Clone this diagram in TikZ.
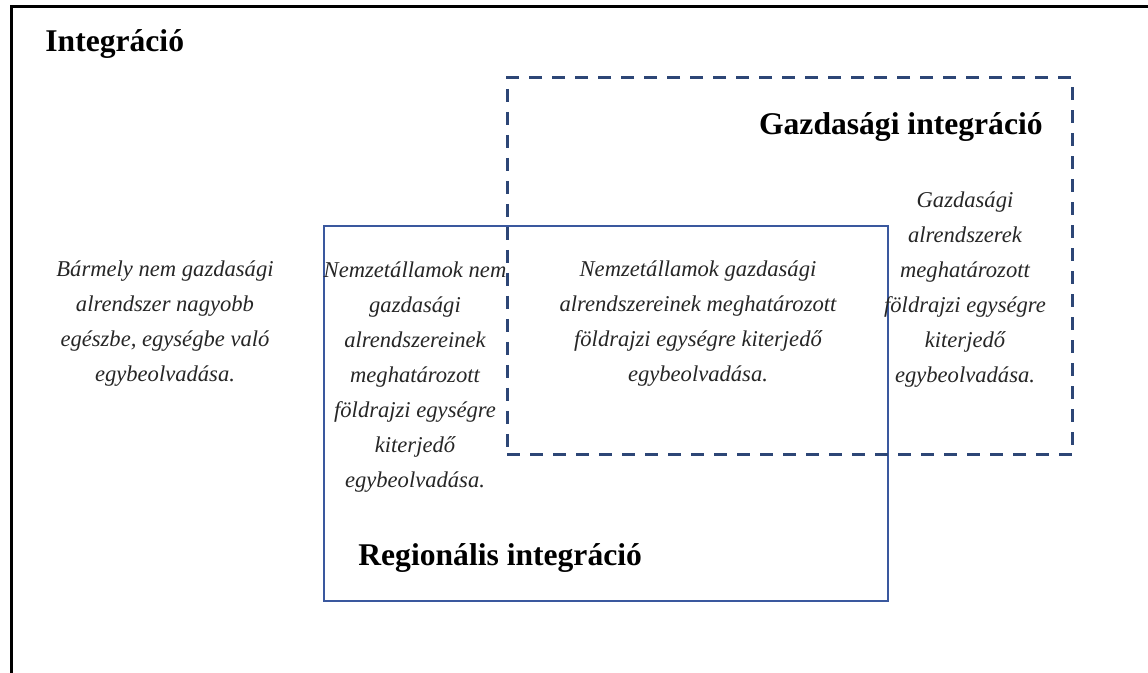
\documentclass[tikz,border=0pt]{standalone}
\usepackage{fontspec}
\setmainfont{Liberation Serif}
\usepackage{xcolor}
\usetikzlibrary{positioning}
\definecolor{gazdblue}{RGB}{45,70,118}
\definecolor{regblue}{RGB}{58,88,158}
\tikzset{
  title/.style={font=\fontsize{15.8}{18}\selectfont\bfseries, inner sep=0pt},
  desc/.style={font=\fontsize{11.3}{17.5}\selectfont\itshape, align=center, inner sep=0pt, text=black!85},
  regframe/.style={draw=regblue, line width=1.2pt, inner sep=0pt},
  gazdframe/.style={draw=gazdblue, line width=1.5pt, dash pattern=on 6.5pt off 5pt, inner sep=0pt},
}

\begin{document}
\begin{tikzpicture}[x=0.5pt, y=-0.5pt]
    \useasboundingbox (0,0) rectangle (1148,673);
    \clip (0,0) rectangle (1148,673);
    \draw[line width=1.5pt] (11,700) -- (11,7) -- (1160,7);

    \node[regframe, minimum width=282pt, minimum height=187.5pt] (reg) at (606,413.5) {};
    \node[gazdframe, minimum width=282.5pt, minimum height=188.5pt] (gazd) at (789.5,266.5) {};

    \node[title, anchor=base west] (intlabel) at (45,52) {Integráció};
    \node[title, anchor=base east] (gazdlabel) at (1043,135) {Gazdasági integráció};
    \node[title, anchor=base west] (reglabel) at (358,566) {Regionális integráció};

    \node[desc] (bar) at (165,323.5) {Bármely nem gazdasági\\ alrendszer nagyobb\\ egészbe, egységbe való\\ egybeolvadása.};
    \node[desc] (natnem) at (415,377) {Nemzetállamok nem\\ gazdasági\\ alrendszereinek\\ meghatározott\\ földrajzi egységre\\ kiterjedő\\ egybeolvadása.};
    \node[desc] (natgazd) at (698,323.5) {Nemzetállamok gazdasági\\ alrendszereinek meghatározott\\ földrajzi egységre kiterjedő\\ egybeolvadása.};
    \node[desc] (gazdsub) at (965,290) {Gazdasági\\ alrendszerek\\ meghatározott\\ földrajzi egységre\\ kiterjedő\\ egybeolvadása.};
\end{tikzpicture}
\end{document}
